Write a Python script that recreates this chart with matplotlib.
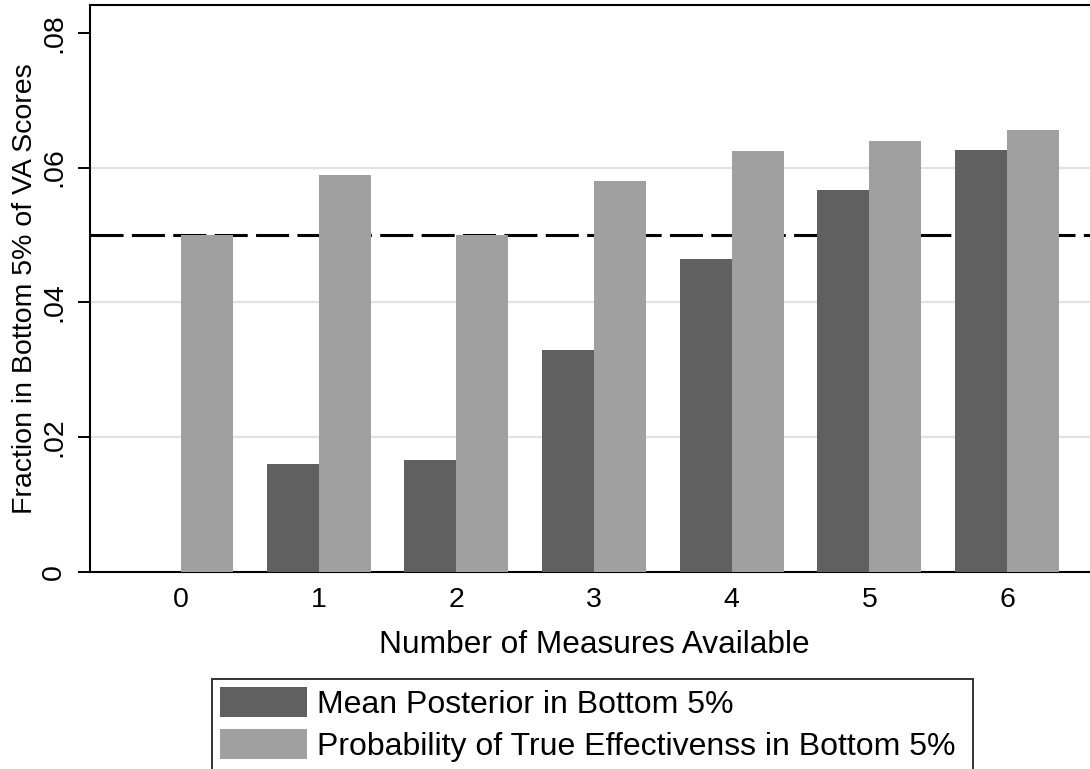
import matplotlib
matplotlib.use("Agg")
import matplotlib.pyplot as plt
import numpy as np

plt.rcParams['font.family'] = ['Liberation Sans', 'DejaVu Sans']
plt.rcParams['lines.scale_dashes'] = False

categories = [0, 1, 2, 3, 4, 5, 6]
mean_posterior = [0.0, 0.0160, 0.0166, 0.0329, 0.0464, 0.0567, 0.0626]
prob_true = [0.0500, 0.0589, 0.0500, 0.0580, 0.0625, 0.0640, 0.0656]
ytick_vals = [0, 0.02, 0.04, 0.06, 0.08]
ytick_labels = ["0", ".02", ".04", ".06", ".08"]
threshold = 0.05
labels = ["Mean Posterior in Bottom 5%", "Probability of True Effectivenss in Bottom 5%"]

W, H = 1090, 769
fig = plt.figure(figsize=(W / 100, H / 100), dpi=100)
ax = fig.add_axes([90 / W, 1 - 571.7 / H, (1098 - 90) / W, (571.7 - 5) / H])

x = np.array(categories, dtype=float)
w = 0.378
dark = "#606060"
light = "#a0a0a0"

b1 = ax.bar(x - w / 2, mean_posterior, width=w, color=dark, zorder=3, label=labels[0])
b2 = ax.bar(x + w / 2, prob_true, width=w, color=light, zorder=3, label=labels[1])

ax.axhline(threshold, color="black", lw=2.2, dashes=(23.8, 6.0), zorder=2)

for v in ytick_vals[1:-1]:
    ax.axhline(v, color="#e3e3e3", lw=1.6, zorder=1)

ax.set_xlim(-0.661, 6.661)
ax.set_ylim(0, 0.08414)
ax.set_xticks(x)
ax.set_xticklabels([str(c) for c in categories], fontsize=20.5)
ax.set_yticks(ytick_vals)
ax.set_yticklabels(ytick_labels, fontsize=20.5, rotation=90, va="center")
ax.tick_params(axis="x", length=0, pad=11)
ax.tick_params(axis="y", length=8.6, width=1.4, pad=8)

for side in ["left", "bottom", "top"]:
    ax.spines[side].set_linewidth(1.5)
ax.spines["right"].set_visible(False)

ax.set_xlabel("Number of Measures Available", fontsize=22.8, labelpad=12)
ax.set_ylabel("Fraction in Bottom 5% of VA Scores", fontsize=20.5, labelpad=2)

leg = fig.legend(handles=[b1, b2], labels=labels, loc="upper left",
                 bbox_to_anchor=(212 / W, 1 - 679 / H - 0.01, (973 - 212) / W, 0.01),
                 mode="expand", fontsize=23, frameon=True, fancybox=False,
                 edgecolor="black", handlelength=2.72, handleheight=1.05,
                 handletextpad=0.31, borderpad=0.25, labelspacing=0.3,
                 borderaxespad=0)
leg.get_frame().set_linewidth(1.4)

fig.savefig("out.png", dpi=100)
